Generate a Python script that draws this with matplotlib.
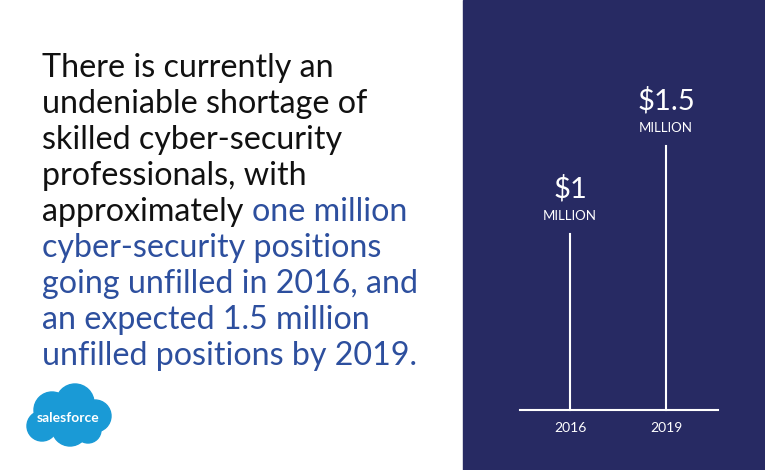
import matplotlib
matplotlib.use("Agg")
import matplotlib.pyplot as plt
from matplotlib.patches import Circle, Rectangle

years = ["2016", "2019"]
values = [1.0, 1.5]
value_labels = ["$1", "$1.5"]
unit_label = "MILLION"

NAVY = "#272a63"
BLUE = "#2d4f9e"
W, H = 765, 470
fig = plt.figure(figsize=(W/100, H/100), dpi=100)

bg = fig.add_axes([0, 0, 1, 1])
bg.set_xlim(0, W); bg.set_ylim(H, 0); bg.axis("off")
bg.add_patch(Rectangle((463, 0), W-463, H, color=NAVY))

FONT = "Lato"
fs = 23.2
lines = [
    [("There is currently an", "#111111")],
    [("undeniable shortage of", "#111111")],
    [("skilled cyber-security", "#111111")],
    [("professionals, with", "#111111")],
    [("approximately ", "#111111"), ("one million", BLUE)],
    [("cyber-security positions", BLUE)],
    [("going unfilled in 2016, and", BLUE)],
    [("an expected 1.5 million", BLUE)],
    [("unfilled positions by 2019.", BLUE)],
]
fig.canvas.draw()
r = fig.canvas.get_renderer()
for i, parts in enumerate(lines):
    x = 42
    y = 68 + i*36
    for s, c in parts:
        t = bg.text(x, y, s, color=c, fontsize=fs, fontfamily=FONT, fontweight="normal",
                    va="center", ha="left")
        bb = t.get_window_extent(renderer=r)
        x += bb.width

LB = "#1a9ad6"
for cx, cy, rr in [(52, 410, 18), (75, 403, 19), (95, 416, 16), (70, 428, 18), (42, 426, 15), (88, 430, 13)]:
    bg.add_patch(Circle((cx, cy), rr, color=LB))
bg.text(68, 418, "salesforce", color="white", fontsize=10, fontfamily="Lato",
        fontweight="bold", ha="center", va="center")

ax = fig.add_axes([463/W, 0, (W-463)/W, 1])
ax.set_xlim(-(570-463)/96, 1 + (W-666)/96)
ax.set_ylim(-60/176, (H-60)/176)
ax.axis("off")
ax.plot([-50/96, (718-570)/96], [0, 0], color="white", lw=1.5)
for i, (yr, v, lab) in enumerate(zip(years, values, value_labels)):
    ax.plot([i, i], [0, v], color="white", lw=1.5)
    ax.text(i, v + 45/176, lab, color="white", fontsize=21, fontfamily=FONT,
            ha="center", va="center")
    ax.text(i, v + 18/176, unit_label, color="white", fontsize=9.5, fontfamily=FONT,
            ha="center", va="center")
    ax.text(i, -18/176, yr, color="white", fontsize=10, fontfamily=FONT,
            ha="center", va="center")

fig.savefig("out.png", dpi=100)
